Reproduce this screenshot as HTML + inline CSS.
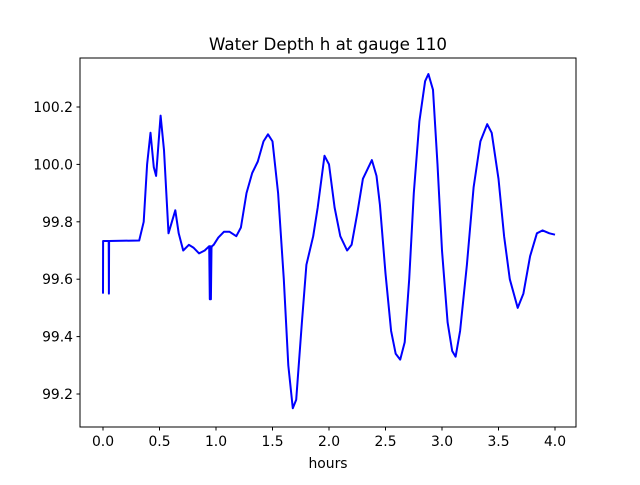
<!DOCTYPE html>
<html><head><meta charset="utf-8"><style>
body{margin:0;background:#fff;}
svg text{font-family:"DejaVu Sans","Liberation Sans",sans-serif;fill:#000;}
</style></head><body>
<svg id="chart" width="640" height="480">
<rect x="0" y="0" width="640" height="480" fill="#fff"/>
<text x="328" y="50" font-size="16.7" text-anchor="middle">Water Depth h at gauge 110</text>
<g id="xticks"></g>
<g id="yticks"></g>
<polyline id="series" fill="none" stroke="#0000ff" stroke-width="2" stroke-linejoin="round"/>
<rect x="80" y="58" width="496" height="369" fill="none" stroke="#000" stroke-width="1"/>
<text x="328" y="468" font-size="13.9" text-anchor="middle">hours</text>
</svg>
<script>
const times=[0,0.001,0.05,0.052,0.054,0.32,0.36,0.39,0.42,0.45,0.47,0.5,0.51,0.54,0.58,0.61,0.64,0.67,0.71,0.76,0.8,0.85,0.9,0.94,0.945,0.95,0.955,0.96,0.965,0.98,1.02,1.07,1.12,1.18,1.22,1.27,1.32,1.37,1.42,1.46,1.5,1.55,1.6,1.64,1.68,1.71,1.76,1.8,1.86,1.9,1.96,2.0,2.05,2.1,2.16,2.2,2.25,2.3,2.38,2.42,2.45,2.5,2.55,2.59,2.63,2.67,2.71,2.75,2.8,2.85,2.88,2.92,2.96,3.0,3.05,3.09,3.12,3.16,3.22,3.28,3.34,3.4,3.44,3.5,3.55,3.6,3.67,3.72,3.78,3.84,3.89,3.95,4.0];
const depths=[99.55,99.733,99.733,99.55,99.733,99.735,99.8,100.0,100.11,99.99,99.96,100.12,100.17,100.05,99.76,99.8,99.84,99.76,99.70,99.72,99.71,99.69,99.70,99.715,99.53,99.715,99.53,99.71,99.715,99.72,99.745,99.765,99.765,99.75,99.78,99.9,99.97,100.01,100.08,100.105,100.08,99.9,99.6,99.3,99.15,99.18,99.45,99.65,99.75,99.85,100.03,100.0,99.85,99.75,99.70,99.72,99.83,99.95,100.015,99.96,99.86,99.62,99.42,99.34,99.32,99.38,99.6,99.9,100.15,100.29,100.315,100.26,100.0,99.7,99.45,99.35,99.33,99.42,99.65,99.92,100.08,100.14,100.11,99.95,99.75,99.6,99.50,99.55,99.68,99.76,99.77,99.76,99.755];
const xTickLabels=["0.0","0.5","1.0","1.5","2.0","2.5","3.0","3.5","4.0"];
const yTickLabels=["99.2","99.4","99.6","99.8","100.0","100.2"];
const X=t=>103+113*t;
const Y=h=>107+(100.2-h)*287;
const ns="http://www.w3.org/2000/svg";
document.getElementById('series').setAttribute('points',times.map((t,i)=>X(t).toFixed(1)+','+Y(depths[i]).toFixed(1)).join(' '));
const xg=document.getElementById('xticks');
xTickLabels.forEach(l=>{const x=X(parseFloat(l));
 const ln=document.createElementNS(ns,'line');
 
 
 ln.setAttribute('x1',x);ln.setAttribute('x2',x);ln.setAttribute('y1',427);ln.setAttribute('y2',430.5);ln.setAttribute('stroke','#000');xg.appendChild(ln);
 const tx=document.createElementNS(ns,'text');
 
 
 tx.setAttribute('x',x);tx.setAttribute('y',446);tx.setAttribute('font-size','13.9');tx.setAttribute('text-anchor','middle');tx.textContent=l;xg.appendChild(tx);});
const yg=document.getElementById('yticks');
yTickLabels.forEach(l=>{const y=Y(parseFloat(l));
 const ln=document.createElementNS(ns,'line');
 
 
 ln.setAttribute('x1',76.5);ln.setAttribute('x2',80);ln.setAttribute('y1',y);ln.setAttribute('y2',y);ln.setAttribute('stroke','#000');yg.appendChild(ln);
 const tx=document.createElementNS(ns,'text');
 
 
 tx.setAttribute('x',73);tx.setAttribute('y',y+5);tx.setAttribute('font-size','13.9');tx.setAttribute('text-anchor','end');tx.textContent=l;yg.appendChild(tx);});
</script>
</body></html>
